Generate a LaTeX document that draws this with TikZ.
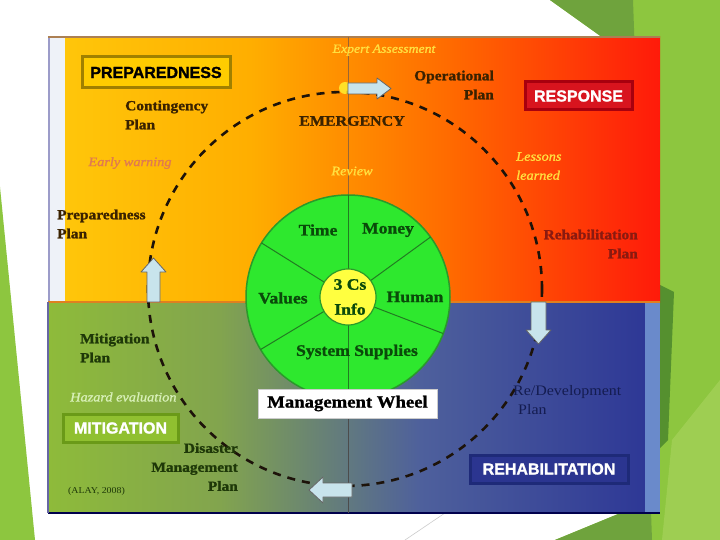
\documentclass[tikz,border=0pt]{standalone}
\usepackage{fontspec}
\usetikzlibrary{calc}
\setmainfont{Liberation Serif}
\newfontfamily\lblfont[FakeStretch=1.1]{Liberation Serif}
\newfontfamily\heavyfont[FakeStretch=1.1,FakeBold=1.2]{Liberation Serif}
\newfontfamily\boxfont[FakeBold=1.4]{Liberation Sans}
\definecolor{sgreen}{HTML}{8DC63F}
\definecolor{sdark}{HTML}{6FA33D}
\definecolor{sdarker}{HTML}{55902F}
\definecolor{slight}{HTML}{9ECE52}
\definecolor{tA}{HTML}{FFC60A}
\definecolor{tB}{HTML}{FFAE00}
\definecolor{tC}{HTML}{FF6A00}
\definecolor{tD}{HTML}{FF1A0A}
\definecolor{bA}{HTML}{8EBB3A}
\definecolor{bB}{HTML}{82A44E}
\definecolor{bC}{HTML}{4E609C}
\definecolor{bD}{HTML}{2E3896}
\definecolor{stripL}{HTML}{EEF2F8}
\definecolor{stripR}{HTML}{6A8ACB}
\definecolor{wheelg}{HTML}{2EE82E}
\definecolor{wheelb}{HTML}{2A9A2A}
\definecolor{wheelt}{HTML}{0A4A0A}
\definecolor{infoy}{HTML}{FFFF40}
\definecolor{toptext}{HTML}{3A2200}
\definecolor{yellowit}{HTML}{FFE040}
\definecolor{salmon}{HTML}{E07A50}
\definecolor{darkred}{HTML}{8A1A10}
\definecolor{greentext}{HTML}{1E3808}
\definecolor{hazard}{HTML}{D8F0B8}
\definecolor{navytext}{HTML}{141C50}
\definecolor{arrowfill}{HTML}{C8E4EC}
\definecolor{prepfill}{HTML}{FFCC00}
\definecolor{prepbord}{HTML}{A08000}
\definecolor{respfill}{HTML}{D8141E}
\definecolor{respbord}{HTML}{A8000E}
\definecolor{mitfill}{HTML}{90C030}
\definecolor{mitbord}{HTML}{6A9A18}
\definecolor{rehfill}{HTML}{2B3590}
\definecolor{rehbord}{HTML}{1E2A78}
\tikzset{
  lbl/.style={font=\heavyfont\bfseries\fontsize{14}{19}\selectfont, text=toptext, inner sep=0pt},
  itlbl/.style={font=\heavyfont\itshape\fontsize{13}{19}\selectfont, inner sep=0pt},
  boxlbl/.style={line width=3pt, font=\boxfont\bfseries\fontsize{16}{18}\selectfont, inner sep=0pt},
  wheeltxt/.style={font=\heavyfont\bfseries\fontsize{16}{25}\selectfont, text=wheelt, inner sep=0pt},
  blockarrow/.style={fill=arrowfill, draw=gray!80!black, line width=0.8pt, line join=round},
  cyclepath/.style={draw=black!85!brown, line width=2.6pt, dash pattern=on 8pt off 7pt}
}
\begin{document}
\begin{tikzpicture}[x=1pt,y=-1pt]
\useasboundingbox (0,0) rectangle (720,540);
\fill[white] (0,0) rectangle (720,540);
% slide decoration
\fill[sgreen] (550,0) -- (720,0) -- (720,540) -- (555,540) -- (640,505) -- (620,50) -- cycle;
\fill[sdark] (550,0) -- (633,0) -- (652,540) -- (555,540) -- (640,505) -- (620,50) -- cycle;
\fill[sdarker] (660,285) -- (674,292) -- (668,440) -- (660,448) -- cycle;
\fill[slight] (672,440) -- (720,380) -- (720,540) -- (662,540) -- cycle;
\fill[sgreen] (0,187) -- (35,540) -- (0,540) -- cycle;
\draw[gray!40, line width=0.6pt] (405,540) -- (445,513);
% diagram background, top half
\shade[left color=tA, right color=tB] (65,37) rectangle (250.5,302);
\shade[left color=tB, right color=tC] (250,37) rectangle (450.5,302);
\shade[left color=tC, right color=tD] (450,37) rectangle (660,302);
\fill[stripL] (48,37) rectangle (65,302);
\draw[blue!30!gray!60, line width=1.5pt] (49,37) -- (49,302);
% bottom half
\shade[left color=bA, right color=bB] (48,302) rectangle (220.5,513);
\shade[left color=bB, right color=bC] (220,302) rectangle (420.5,513);
\shade[left color=bC, right color=bD] (420,302) rectangle (645,513);
\fill[stripR] (645,302) rectangle (660,513);
% frame lines
\draw[brown!70!gray, line width=1.2pt] (48,37) -- (660,37);
\draw[orange!50!brown, line width=2pt] (48,302) -- (660,302);
\draw[black!70!blue, line width=1.5pt] (48,513) -- (660,513);
\draw[black!60!blue!60, line width=1.5pt] (48,302) -- (48,513);
\draw[brown!80!black, line width=1pt] (348,37) -- (348,302);
\draw[black!70, line width=1pt] (348,302) -- (348,513);
% dashed cycle
\coordinate (cyc) at (345,289);
\draw[cyclepath] (cyc) circle (197pt);
% block arrows
\fill[yellow!80!white, opacity=0.8] (345,88) circle (6pt);
\draw[blockarrow] (348,83) -- (377,83) -- (377,78) -- (391,88.5) -- (377,99) -- (377,94) -- (348,94) -- cycle;
\draw[blockarrow] (147,302) -- (147,272) -- (141,272) -- (153.5,258) -- (166,272) -- (160,272) -- (160,302) -- cycle;
\draw[blockarrow] (531,302) -- (531,330) -- (526,330) -- (538.5,344) -- (551,330) -- (546,330) -- (546,302) -- cycle;
\draw[blockarrow] (352,483) -- (323,483) -- (323,477) -- (309,490) -- (323,503) -- (323,497) -- (352,497) -- cycle;
% wheel
\coordinate (wc) at (348,297);
\filldraw[fill=wheelg, draw=wheelb, line width=1.5pt] (wc) circle (102pt);
\draw[wheelb!80!black, line width=1pt] ($(wc)+(270:102)$) -- ($(wc)+(90:102)$);
\foreach \a in {212,324,21,149} \draw[wheelb!80!black, line width=1pt] (wc) -- ($(wc)+(\a:102)$);
\filldraw[fill=infoy, draw=wheelb, line width=1.2pt] (wc) circle (28pt);
\node[wheeltxt] (time) at (318,230) {Time};
\node[wheeltxt] (money) at (388,230) {Money};
\node[wheeltxt] (values) at (283,298) {Values};
\node[wheeltxt] (human) at (415,297) {Human};
\node[wheeltxt] (syssup) at (357,352) {System Supplies};
\node[wheeltxt, align=center] (info) at (350,297) {3 Cs\\Info};
% boxes
\node[boxlbl, draw=prepbord, fill=prepfill, minimum width=148pt, minimum height=31pt, text=black] (prep) at (156,72.5) {PREPAREDNESS};
\node[boxlbl, draw=respbord, fill=respfill, minimum width=107pt, minimum height=28pt, text=white] (resp) at (578.5,96) {RESPONSE};
\node[boxlbl, draw=mitbord, fill=mitfill, minimum width=115pt, minimum height=28pt, text=white] (mit) at (120.5,428) {MITIGATION};
\node[boxlbl, draw=rehbord, fill=rehfill, minimum width=158pt, minimum height=28pt, text=white] (reh) at (549,469) {REHABILITATION};
\node[draw=gray!40, line width=0.8pt, fill=white, minimum width=179pt, minimum height=29pt, inner sep=0pt, font=\heavyfont\bfseries\fontsize{17}{20}\selectfont] (mw) at (347.5,403.5) {Management Wheel};
% labels
\node[itlbl, text=yellowit, font=\heavyfont\itshape\fontsize{12.5}{14}\selectfont] (expert) at (384,50) {Expert Assessment};
\node[lbl, align=right, anchor=east] (oper) at (494,85) {Operational\\Plan};
\node[lbl, align=left, anchor=west] (cont) at (125,115) {Contingency\\Plan};
\node[lbl, font=\heavyfont\bfseries\fontsize{14.5}{17}\selectfont] (emerg) at (352,121) {EMERGENCY};
\node[itlbl, text=salmon] (early) at (130,163) {Early warning};
\node[itlbl, text=yellowit] (review) at (352,171) {Review};
\node[itlbl, text=yellowit, align=left, anchor=west] (lessons) at (516,166) {Lessons\\learned};
\node[lbl, align=left, anchor=west] (prepplan) at (57,224) {Preparedness\\Plan};
\node[lbl, text=darkred, align=right, anchor=east] (rehplan) at (638,244) {Rehabilitation\\Plan};
\node[lbl, text=greentext, align=left, anchor=west] (mitplan) at (80,348) {Mitigation\\Plan};
\node[itlbl, text=hazard, anchor=west] (hazard) at (70,397) {Hazard evaluation};
\node[lbl, text=greentext, align=right, anchor=east] (dmp) at (238,467) {Disaster\\Management\\Plan};
\node[text=greentext, anchor=west, inner sep=0pt, font=\lblfont\fontsize{9}{11}\selectfont] (cite) at (68,491) {(ALAY, 2008)};
\node[text=navytext, align=left, anchor=west, inner sep=0pt, font=\lblfont\fontsize{14.5}{19}\selectfont] (redev) at (513,400) {Re/Development\\\hspace*{5pt}Plan};
\end{tikzpicture}
\end{document}
